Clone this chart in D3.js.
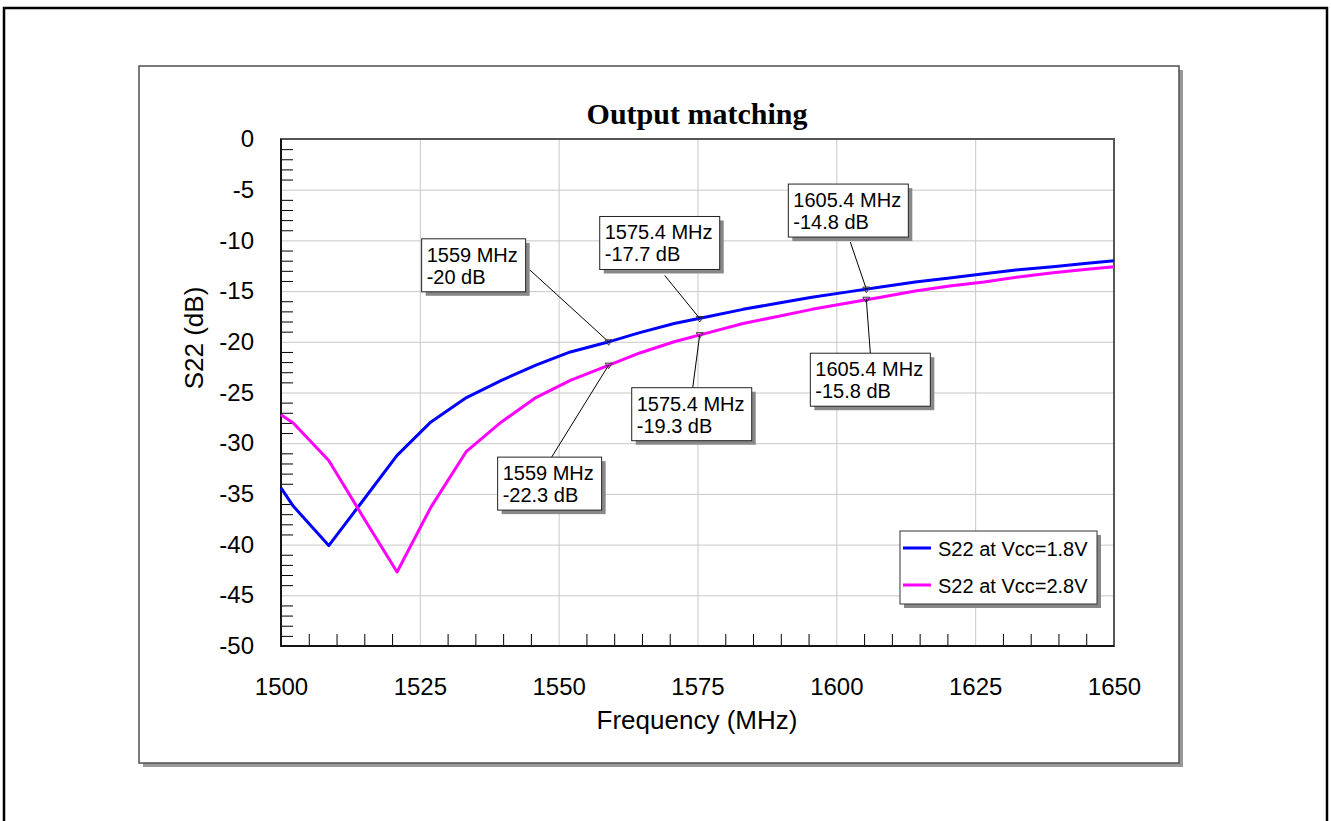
<!DOCTYPE html>
<html>
<head>
<meta charset="utf-8">
<script src="https://cdn.jsdelivr.net/npm/d3@7"></script>
<style>
    body { margin: 0; background: #fff; }
    svg text { font-family: Arial, "Liberation Sans", sans-serif; fill: #000; }
    .grid line { stroke: #c8c8c8; stroke-width: 1; }
    .grid path, .ticks path, .labels path { display: none; }
    .ticks line { stroke: #000; stroke-width: 1; }
</style>
</head>
<body>
<svg id="chart" width="1331" height="821"></svg>
<script>
// frequency points (MHz)
const freqs = [1500, 1502.2, 1508.6, 1514.7, 1520.9, 1527.0, 1533.4, 1539.7, 1545.9, 1552.1,
    1558.4, 1564.6, 1570.8, 1577.0, 1583.2, 1589.4, 1595.6, 1601.8, 1608.0, 1614.2,
    1620.4, 1626.6, 1632.8, 1639.0, 1645.2, 1650];

// S22 at Vcc=1.8V (dB)
const s22Low = [-34.4, -36.2, -40.1, -35.7, -31.2, -27.9, -25.5, -23.8, -22.3, -21.0,
    -20.1, -19.1, -18.2, -17.5, -16.8, -16.2, -15.6, -15.1, -14.6, -14.1,
    -13.7, -13.3, -12.9, -12.6, -12.25, -12.0];

// S22 at Vcc=2.8V (dB)
const s22High = [-27.2, -28.0, -31.7, -37.2, -42.7, -36.3, -30.8, -27.9, -25.5, -23.8,
    -22.45, -21.1, -20.0, -19.1, -18.2, -17.5, -16.8, -16.2, -15.6, -15.0,
    -14.5, -14.1, -13.6, -13.2, -12.85, -12.6];

const seriesNames = ['S22 at Vcc=1.8V', 'S22 at Vcc=2.8V'];

const xTicks = [1500, 1525, 1550, 1575, 1600, 1625, 1650];
const yTicks = [0, -5, -10, -15, -20, -25, -30, -35, -40, -45, -50];

// marker annotations: series index, frequency, value
const markSeries = [0, 0, 1, 1, 0, 1];
const markFreqs = [1559, 1575.4, 1575.4, 1559, 1605.4, 1605.4];
const markValues = [-20, -17.7, -19.3, -22.3, -14.8, -15.8];

// label placement relative to the marked point (box corner, leader start)
const labelLayout = [
    {bx: -187, by: -103, lx: -79, ly: -72},
    {bx: -100, by: -102, lx: -35, ly: -43},
    {bx: -68, by: 53, lx: -7, ly: 53},
    {bx: -111, by: 92, lx: -57, ly: 92},
    {bx: -78, by: -105, lx: -16, ly: -47},
    {bx: -56, by: 54, lx: 4, ly: 54}
];

const colors = ['#0000ff', '#ff00ff'];

let svg = d3.select('#chart');

let plot = {left: 281, right: 1114, top: 139, bottom: 646},
    x = d3.scaleLinear().domain([1500, 1650]).range([plot.left, plot.right]),
    y = d3.scaleLinear().domain([-50, 0]).range([plot.bottom, plot.top]);

// outer page frame
svg.append('rect')
    .attr('x', 4).attr('y', 8).attr('width', 1323).attr('height', 840)
    .attr('fill', 'none').attr('stroke', '#000').attr('stroke-width', 2.5);

// chart box with shadow
svg.append('rect')
    .attr('x', 143).attr('y', 70).attr('width', 1040).attr('height', 697)
    .attr('fill', '#999');
svg.append('rect')
    .attr('x', 139).attr('y', 66).attr('width', 1040).attr('height', 697)
    .attr('fill', '#fff').attr('stroke', '#505050').attr('stroke-width', 1.5);

// grid
svg.append('g').attr('class', 'grid')
    .attr('transform', `translate(${plot.left},0)`)
    .call(d3.axisLeft(y).tickValues(yTicks).tickSize(-(plot.right - plot.left)).tickFormat(''));
svg.append('g').attr('class', 'grid')
    .attr('transform', `translate(0,${plot.bottom})`)
    .call(d3.axisBottom(x).tickValues(xTicks).tickSize(-(plot.bottom - plot.top)).tickFormat(''));

// minor ticks, drawn inward
let yMinor = d3.range(-49, 0, 1).filter(v => v % 5 !== 0),
    xMinor = d3.range(1505, 1650, 5).filter(v => v % 25 !== 0);

svg.append('g').attr('class', 'ticks')
    .attr('transform', `translate(${plot.left},0)`)
    .call(d3.axisLeft(y).tickValues(yMinor).tickSize(-12).tickFormat(''));
svg.append('g').attr('class', 'ticks')
    .attr('transform', `translate(0,${plot.bottom})`)
    .call(d3.axisBottom(x).tickValues(xMinor).tickSize(-12).tickFormat(''));

// plot frame
svg.append('rect')
    .attr('x', plot.left).attr('y', plot.top)
    .attr('width', plot.right - plot.left).attr('height', plot.bottom - plot.top)
    .attr('fill', 'none').attr('stroke', '#555').attr('stroke-width', 2);
svg.append('path')
    .attr('d', `M${plot.left},${plot.top}V${plot.bottom}H${plot.right}`)
    .attr('fill', 'none').attr('stroke', '#000').attr('stroke-width', 1.5);

// tick labels (plain hyphen minus, like the original)
let plain = d => String(d);
svg.append('g').attr('class', 'labels')
    .attr('transform', `translate(${plot.left},0)`)
    .call(d3.axisLeft(y).tickValues(yTicks).tickSize(0).tickPadding(27).tickFormat(plain))
    .selectAll('text').style('font-size', '24px').attr('font-family', null);
svg.append('g').attr('class', 'labels')
    .attr('transform', `translate(0,${plot.bottom})`)
    .call(d3.axisBottom(x).tickValues(xTicks).tickSize(0).tickPadding(32).tickFormat(plain))
    .selectAll('text').style('font-size', '24px').attr('font-family', null);

// axis titles
svg.append('text')
    .attr('x', 697).attr('y', 729)
    .attr('text-anchor', 'middle')
    .style('font-size', '26px')
    .text('Frequency (MHz)');

svg.append('text')
    .attr('transform', 'translate(203,338)rotate(-90)')
    .attr('text-anchor', 'middle')
    .style('font-size', '26px')
    .text('S22 (dB)');

svg.append('text')
    .attr('x', 697).attr('y', 124)
    .attr('text-anchor', 'middle')
    .style('font-family', '"Liberation Serif", "Times New Roman", serif')
    .style('font-weight', 'bold')
    .style('font-size', '30px')
    .text('Output matching');

// curves
let line = d3.line().x(d => x(d[0])).y(d => y(d[1]));
[s22Low, s22High].forEach((values, i) => {
    svg.append('path')
        .datum(freqs.map((f, j) => [f, values[j]]))
        .attr('d', line)
        .attr('fill', 'none')
        .attr('stroke', colors[i])
        .attr('stroke-width', 3)
        .attr('stroke-linejoin', 'round');
});

// annotations
markFreqs.forEach((f, i) => {
    let px = x(f), py = y(markValues[i]), l = labelLayout[i];

    svg.append('line')
        .attr('x1', px + l.lx).attr('y1', py + l.ly)
        .attr('x2', px).attr('y2', py)
        .attr('stroke', '#000').attr('stroke-width', 1);

    svg.append('path')
        .attr('d', 'M-3.5,-2L3.5,-2L0,3.5Z')
        .attr('transform', `translate(${px},${py})`)
        .attr('fill', 'none').attr('stroke', '#333').attr('stroke-width', 1);

    let g = svg.append('g').attr('transform', `translate(${px + l.bx},${py + l.by})`);
    let shadow = g.append('rect').attr('fill', '#888');
    let box = g.append('rect').attr('fill', '#fff').attr('stroke', '#222').attr('stroke-width', 1);
    let label = g.append('text').style('font-size', '20px');
    label.append('tspan').attr('x', 5).attr('y', 23).text(`${f} MHz`);
    label.append('tspan').attr('x', 5).attr('y', 45).text(`${markValues[i]} dB`);

    let w = Math.ceil(label.node().getBBox().width) + 12, h = 53;
    box.attr('width', w).attr('height', h);
    shadow.attr('x', 4).attr('y', 4).attr('width', w).attr('height', h);
});

// legend
let legend = svg.append('g').attr('transform', 'translate(900,531)');
legend.append('rect').attr('x', 4).attr('y', 4).attr('width', 197).attr('height', 73).attr('fill', '#888');
legend.append('rect').attr('width', 197).attr('height', 73)
    .attr('fill', '#fff').attr('stroke', '#333').attr('stroke-width', 1);
seriesNames.forEach((name, i) => {
    let ly = 17 + i * 37;
    legend.append('line')
        .attr('x1', 3).attr('x2', 31).attr('y1', ly).attr('y2', ly)
        .attr('stroke', colors[i]).attr('stroke-width', 3);
    legend.append('text')
        .attr('x', 38).attr('y', ly + 8)
        .style('font-size', '20px')
        .text(name);
});
</script>
</body>
</html>
